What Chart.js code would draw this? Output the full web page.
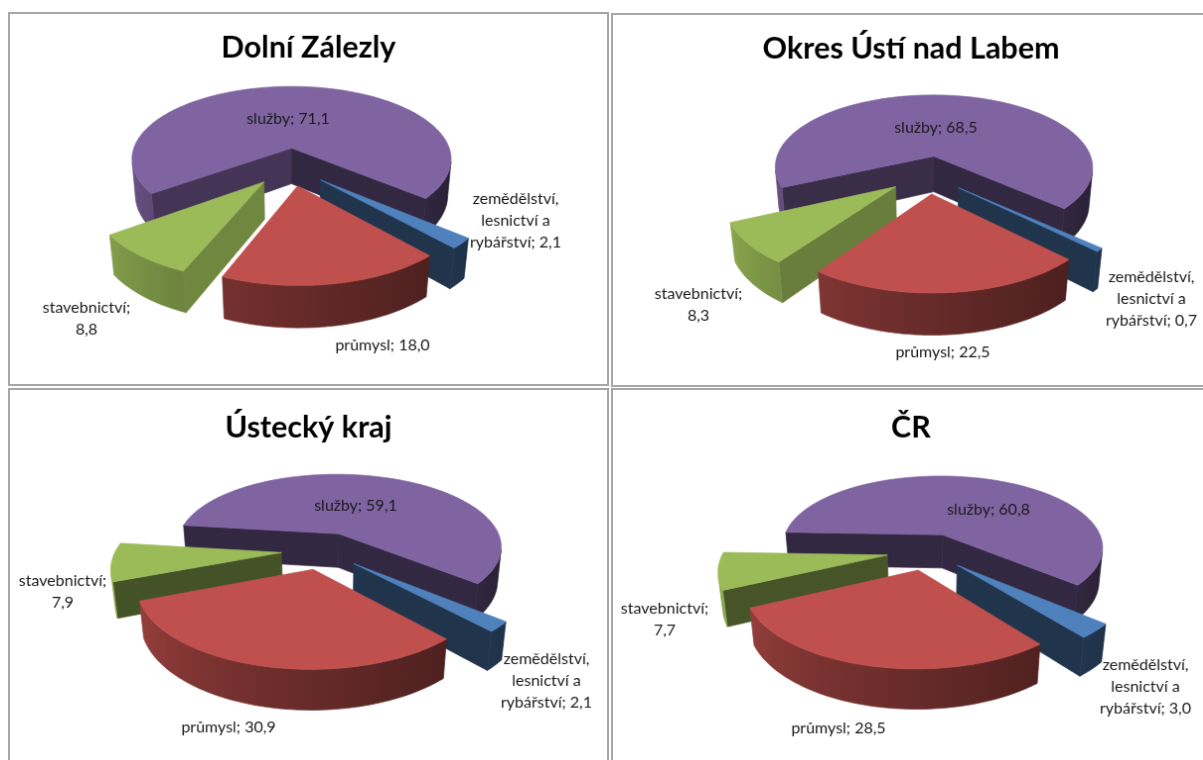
<!DOCTYPE html>
<html lang="cs">
<head>
<meta charset="UTF-8">
<title>Zaměstnanost podle odvětví</title>
<script src="https://cdn.jsdelivr.net/npm/chart.js"></script>
<style>
    html, body { margin: 0; height: 100%; background: #fff; overflow: hidden; }
    canvas { position: absolute; border: 2px solid #a6a6a6; background: #fff; }
</style>
</head>
<body>

<canvas id="c0" style="left:8px;top:12px"></canvas>
<canvas id="c1" style="left:611px;top:13px"></canvas>
<canvas id="c2" style="left:8px;top:388px"></canvas>
<canvas id="c3" style="left:611px;top:388px"></canvas>

<script>
const titles = ['Dolní Zálezly', 'Okres Ústí nad Labem', 'Ústecký kraj', 'ČR'];
const categories = ['zemědělství, lesnictví a rybářství', 'průmysl', 'stavebnictví', 'služby'];
const labelPrefix = ['zemědělství,\nlesnictví a\nrybářství; ', 'průmysl; ', 'stavebnictví;\n', 'služby; '];
const valuesDolniZalezly = [2.1, 18.0, 8.8, 71.1];
const valuesOkresUsti = [0.7, 22.5, 8.3, 68.5];
const valuesUsteckyKraj = [2.1, 30.9, 7.9, 59.1];
const valuesCR = [3.0, 28.5, 7.7, 60.8];
const allValues = [valuesDolniZalezly, valuesOkresUsti, valuesUsteckyKraj, valuesCR];
const colors = ['#4f81bd', '#c0504d', '#9bbb59', '#8064a2'];
const rimBoost = [1, 1, 1.15, 1];

// page geometry of each 3D pie, tuned by eye against the picture
const frames = [
    { left: 8, top: 12, width: 601, height: 374, titlePad: 16 },
    { left: 611, top: 13, width: 600, height: 374, titlePad: 16 },
    { left: 8, top: 388, width: 601, height: 380, titlePad: 20 },
    { left: 611, top: 388, width: 600, height: 380, titlePad: 20 }
];
const views = [
    { cx: 292, cy: 168, R: 165, tilt: 28, persp: 0.18, depth: 0.26, rotation: 130 },
    { cx: 930, cy: 176, R: 164, tilt: 28, persp: 0.18, depth: 0.26, rotation: 132 },
    { cx: 325, cy: 552, R: 167, tilt: 27, persp: 0.195, depth: 0.24, rotation: 130 },
    { cx: 930, cy: 553, R: 165, tilt: 27, persp: 0.195, depth: 0.24, rotation: 131 }
];
const labelSpots = [
    [[519, 201], [385, 349], [87, 311], [290, 120]],
    [[1155, 280], [945, 356], [699, 297], [938, 129]],
    [[550, 662], [230, 731], [63, 583], [358, 507]],
    [[1149, 668], [840, 732], [665, 611], [991, 511]]
];

function shadeColor(hex, k) {
    const n = parseInt(hex.slice(1), 16);
    const c = v => Math.min(255, Math.round(v * k));
    return `rgb(${c((n >> 16) & 255)},${c((n >> 8) & 255)},${c(n & 255)})`;
}

// outer wall gets lighter towards the left, cut faces depend on where they look
function rimShade(deg) {
    const a = Math.abs(((deg % 360) + 540) % 360 - 180);
    return Math.min(0.8, 0.3 + 0.58 * Math.pow(a / 180, 1.3));
}
function cutShade(normalDeg) {
    const n = ((normalDeg % 360) + 360) % 360;
    if (n < 30) return 0.72;
    if (n < 64) return 0.72 - (n - 30) / 34 * 0.27;
    if (n < 90) return 0.45 - (n - 64) / 26 * 0.05;
    return 0.4;
}

function makeProjector(view, origin) {
    const e = view.tilt * Math.PI / 180;
    return (gx, gy, z) => {
        const up = -gy * Math.sin(e) + z * Math.cos(e);
        const toward = gy * Math.cos(e) + z * Math.sin(e);
        const s = 1 / (1 - toward * view.persp);
        return [view.cx - origin.x + view.R * gx * s, view.cy - origin.y - view.R * up * s];
    };
}

function fillPoly(ctx, pts, color) {
    ctx.beginPath();
    pts.forEach((p, i) => i ? ctx.lineTo(p[0], p[1]) : ctx.moveTo(p[0], p[1]));
    ctx.closePath();
    ctx.fillStyle = color;
    ctx.strokeStyle = color;
    ctx.lineWidth = 0.7;
    ctx.fill();
    ctx.stroke();
}

function signedArea(pts) {
    let sum = 0;
    pts.forEach((p, i) => {
        const q = pts[(i + 1) % pts.length];
        sum += p[0] * q[1] - q[0] * p[1];
    });
    return sum;
}

function drawRimRun(ctx, run, color, boost, view, project) {
    const tops = run.map(p => project(p.x, p.y, 0));
    const bottoms = run.map(p => project(p.x, p.y, -view.depth));
    const x0 = tops[0][0], x1 = tops[tops.length - 1][0];
    const grad = ctx.createLinearGradient(x0, 0, x1, 0);
    run.forEach((p, i) => {
        const t = (tops[i][0] - x0) / (x1 - x0 || 1);
        grad.addColorStop(Math.max(0, Math.min(1, t)), shadeColor(color, rimShade(p.a * 180 / Math.PI) * boost));
    });
    fillPoly(ctx, tops.concat(bottoms.reverse()), grad);
}

function drawSlice(ctx, arc, color, boost, view, project) {
    const o = (arc.options.offset || 0) / 100;
    const mid = (arc.startAngle + arc.endAngle) / 2;
    const ox = Math.cos(mid) * o, oy = Math.sin(mid) * o;
    const steps = Math.max(2, Math.ceil((arc.endAngle - arc.startAngle) / 0.03));
    const rim = [];
    for (let i = 0; i <= steps; i++) {
        const a = arc.startAngle + (arc.endAngle - arc.startAngle) * i / steps;
        rim.push({ a: a, x: ox + Math.cos(a), y: oy + Math.sin(a) });
    }
    const facing = (p, q) => signedArea([project(p.x, p.y, 0), project(q.x, q.y, 0), project(q.x, q.y, -view.depth), project(p.x, p.y, -view.depth)]) < 0;
    const cutWall = (p, q, normalDeg) => {
        if (!facing(p, q)) return;
        fillPoly(ctx, [project(p.x, p.y, 0), project(q.x, q.y, 0), project(q.x, q.y, -view.depth), project(p.x, p.y, -view.depth)], shadeColor(color, cutShade(normalDeg)));
    };
    const apex = { x: ox, y: oy };
    const deg = a => a * 180 / Math.PI;
    cutWall(apex, rim[0], deg(arc.startAngle) - 90);
    cutWall(rim[steps], apex, deg(arc.endAngle) + 90);
    let run = [];
    for (let i = 0; i < steps; i++) {
        if (facing(rim[i], rim[i + 1])) {
            if (!run.length) run.push(rim[i]);
            run.push(rim[i + 1]);
        } else if (run.length) {
            drawRimRun(ctx, run, color, boost, view, project);
            run = [];
        }
    }
    if (run.length) drawRimRun(ctx, run, color, boost, view, project);
    fillPoly(ctx, [project(ox, oy, 0)].concat(rim.map(p => project(p.x, p.y, 0))), color);
}

const pie3dPlugin = {
    id: 'pie3d',
    beforeDatasetDraw(chart, args, opts) {
        const ctx = chart.ctx;
        const project = makeProjector(opts.view, opts.origin);
        const arcs = args.meta.data.map((arc, i) => ({ arc, color: colors[i], boost: rimBoost[i] }));
        arcs.sort((p, q) => Math.sin((p.arc.startAngle + p.arc.endAngle) / 2) - Math.sin((q.arc.startAngle + q.arc.endAngle) / 2));
        arcs.forEach(s => drawSlice(ctx, s.arc, s.color, s.boost, opts.view, project));
        return false;
    },
    afterDraw(chart, args, opts) {
        const ctx = chart.ctx;
        ctx.save();
        ctx.font = '16px Lato';
        ctx.fillStyle = '#1a1a1a';
        ctx.textAlign = 'center';
        ctx.textBaseline = 'middle';
        chart.data.datasets[0].data.forEach((v, i) => {
            const text = labelPrefix[i] + v.toFixed(1).replace('.', ',');
            const spot = opts.spots[i];
            text.split('\n').forEach((line, k) => {
                ctx.fillText(line, spot[0] - opts.origin.x, spot[1] - opts.origin.y + k * 21.7);
            });
        });
        ctx.restore();
    }
};

allValues.forEach((values, i) => {
    const f = frames[i];
    const canvas = document.getElementById('c' + i);
    canvas.width = f.width;
    canvas.height = f.height;
    canvas.style.width = f.width + 'px';
    canvas.style.height = f.height + 'px';
    new Chart(canvas, {
        type: 'pie',
        data: {
            labels: categories,
            datasets: [{ data: values, backgroundColor: colors, offset: 25, borderWidth: 0 }]
        },
        plugins: [pie3dPlugin],
        options: {
            responsive: false,
            animation: false,
            rotation: views[i].rotation,
            plugins: {
                legend: { display: false },
                tooltip: { enabled: false },
                title: {
                    display: true,
                    text: titles[i],
                    color: '#000',
                    font: { family: 'Lato', size: 30.5, weight: 'bold' },
                    padding: { top: f.titlePad, bottom: 10 }
                },
                pie3d: {
                    view: views[i],
                    spots: labelSpots[i],
                    origin: { x: f.left + 2, y: f.top + 2 }
                }
            }
        }
    });
});
</script>

</body>
</html>
